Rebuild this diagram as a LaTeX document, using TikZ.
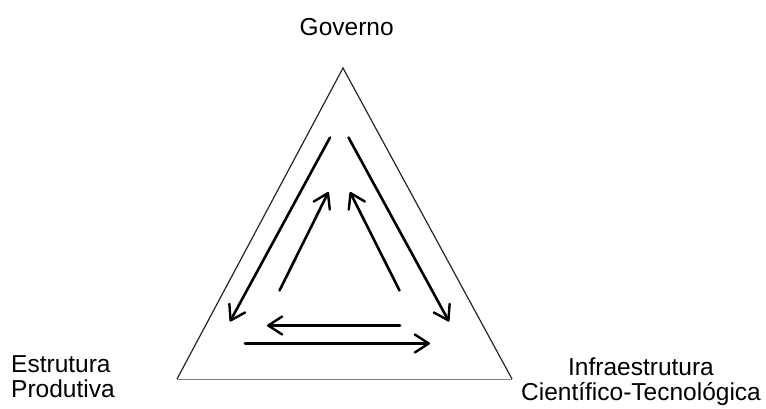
\documentclass[tikz,border=0pt]{standalone}
\usepackage{fontspec}
\setmainfont{Liberation Sans}
\usetikzlibrary{arrows.meta}
\begin{document}
\begin{tikzpicture}[x=1pt,y=-1pt,
  label/.style={inner sep=0pt,font=\fontsize{24.5}{26}\selectfont},
  side/.style={line width=1.2pt,draw=black!85},
  baseline/.style={line width=1pt,draw=black!50},
  flow/.style={line width=2.6pt,line cap=round,
    -{Straight Barb[length=14pt,width=18pt,line width=2.4pt,round]}}]
  \useasboundingbox (0,0) rectangle (766,409);

  % triangle corners
  \coordinate (top) at (343,68);
  \coordinate (bl) at (177,379);
  \coordinate (br) at (512,379);
  \draw[side] (bl) -- (top) -- (br);
  \draw[baseline] (bl) -- (br);

  % labels at the three vertices
  \node[label,anchor=base] (gov) at (346.7,36) {Governo};
  \node[label,anchor=base west] (ep1) at (11,372) {Estrutura};
  \node[label,anchor=base west] (ep2) at (11,397) {Produtiva};
  \node[label,anchor=base] (ict1) at (641,375) {Infraestrutura};
  \node[label,anchor=base] (ict2) at (641,400.5) {Científico-Tecnológica};

  % arrow end points
  \coordinate (olS) at (330,137.5);  \coordinate (olE) at (230,321.5);
  \coordinate (orS) at (348.5,137.5); \coordinate (orE) at (449,321.5);
  \coordinate (ilS) at (279.5,290.5); \coordinate (ilE) at (328.5,192);
  \coordinate (irS) at (399.5,290.5); \coordinate (irE) at (350,192);
  \coordinate (buS) at (400,325.5);  \coordinate (buE) at (267,325.5);
  \coordinate (bdS) at (245,343.5);  \coordinate (bdE) at (430,343.5);

  % flows between the three spheres
  \draw[flow] (olS) -- (olE);
  \draw[flow] (orS) -- (orE);
  \draw[flow] (ilS) -- (ilE);
  \draw[flow] (irS) -- (irE);
  \draw[flow] (buS) -- (buE);
  \draw[flow] (bdS) -- (bdE);
\end{tikzpicture}
\end{document}
